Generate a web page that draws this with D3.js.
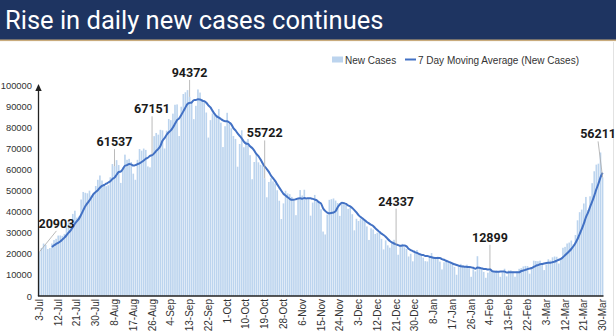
<!DOCTYPE html>
<html>
<head>
<meta charset="utf-8">
<script src="https://cdn.jsdelivr.net/npm/d3@7/dist/d3.min.js"></script>
<style>
  html, body { margin: 0; padding: 0; background: #fff; }
  svg { display: block; }
</style>
</head>
<body>
<svg id="chart" width="616" height="336"></svg>
<script>
// Daily new cases, 3 Jul 2020 – 30 Mar 2021
const startDate = "2020-07-03";
const newCases = [
  // Jul
  20903, 22771, 24850, 24248, 22252, 22752, 24879, 26506, 27114, 28637, 28701, 28498, 29429, 32695, 34956,
  34884, 38902, 40425, 37148, 37724, 45720, 49310, 48916, 48661, 49931, 47704, 48513, 52123, 55078,
  // Aug
  57118, 54735, 52972, 52050, 52509, 56282, 62538, 61537, 64399, 62064, 53601, 60963, 66999, 64553, 65002,
  63490, 57981, 55079, 64531, 69652, 68898, 69878, 69239, 61408, 60975, 67151, 75760, 77266, 76472, 78761, 78512,
  // Sep
  69921, 78357, 83883, 83341, 86432, 90632, 90802, 75809, 89706, 95735, 96551, 97570, 94372, 92071, 83809,
  90123, 97894, 96424, 93337, 92605, 86961, 75083, 83347, 86508, 86052, 85362, 88600, 82170, 70589, 80472,
  // Oct
  86821, 81484, 79476, 75829, 74442, 61267, 72049, 78524, 70496, 73272, 74383, 66732, 55342, 63509, 67708,
  63371, 62212, 61871, 55722, 46790, 54044, 55839, 54366, 53370, 50129, 45149, 36469, 43893, 49881, 48648, 48268,
  // Nov
  46963, 45231, 38310, 46253, 50209, 47638, 50357, 45674, 45903, 38073, 44281, 47905, 44878, 44684, 41100,
  30548, 29163, 38617, 45576, 45882, 46232, 45209, 44059, 37975, 44376, 44489, 43082, 41322, 41810, 38772,
  // Dec
  31118, 36604, 35551, 36595, 36652, 36011, 32981, 26567, 32080, 31521, 29398, 30006, 30254, 27071, 22065,
  26382, 24010, 22890, 25152, 26624, 24337, 19556, 23950, 24712, 23067, 22273, 18732, 20021, 16432, 20549, 21821,
  // Jan
  20035, 19079, 18177, 16504, 16375, 18088, 20346, 18139, 18222, 18645, 16311, 12584, 15968, 16946, 15590,
  15158, 15144, 13788, 10064, 13823, 15223, 14545, 14256, 14849, 13203, 9102, 12689, 11666, 18855, 13083, 13052,
  // Feb
  11427, 8635, 11039, 12899, 12408, 11713, 12059, 11831, 9110, 11067, 12923, 9309, 12143, 12194,
  11649, 9121, 11610, 12881, 13193, 13993, 14264, 14199, 10584, 13742, 16738, 16577, 16488, 16752,
  // Mar
  15510, 12286, 14989, 17407, 16838, 18327, 18711, 18599, 15388, 17921, 22854, 23285, 24882, 25320, 26291,
  24492, 28903, 35871, 39726, 40953, 43846, 46951, 40715, 47262, 53476, 59118, 62258, 62714, 68020, 56211
];

// Days that carry a value callout
const calloutDays = ["2020-07-03", "2020-08-08", "2020-08-26", "2020-09-13", "2020-10-19",
                     "2020-12-21", "2021-02-04", "2021-03-30"];

const yTicks = [0, 10000, 20000, 30000, 40000, 50000, 60000, 70000, 80000, 90000, 100000];
const tickEvery = 9; // a date label every ninth day
const maWindow = 7;

const titleText = "Rise in daily new cases continues";
const legendLabels = ["New Cases", "7 Day Moving Average (New Cases)"];

// ---------------------------------------------------------------
const parse = d3.timeParse("%Y-%m-%d");
const fmtDay = d3.timeFormat("%-d-%b");
const t0 = parse(startDate);
const days = newCases.map((v, i) => ({ i, date: d3.timeDay.offset(t0, i), value: v }));

// trailing 7 day average
const ma = days.slice(maWindow - 1).map(d => ({
  i: d.i,
  value: d3.mean(newCases.slice(d.i - maWindow + 1, d.i + 1))
}));

const svg = d3.select("#chart");
const W = 616, H = 336;

// header banner
svg.append("rect").attr("x", 0).attr("y", 0).attr("width", W).attr("height", 40).attr("fill", "#1e3461");
svg.append("rect").attr("x", 0).attr("y", 39.5).attr("width", W).attr("height", 1.6).attr("fill", "#c9ab7c");
svg.append("text")
  .attr("x", 5).attr("y", 29)
  .attr("fill", "#ffffff")
  .attr("font-family", "Roboto, 'Noto Sans', sans-serif")
  .attr("font-size", 25.5)
  .text(titleText);

// faint frame edge on the right
svg.append("line").attr("x1", 613.5).attr("x2", 613.5).attr("y1", 42).attr("y2", H)
  .attr("stroke", "#e2e2e2").attr("stroke-width", 1);

const plot = { left: 38.5, right: 603.5, top: 85, bottom: 296 };

const x = d3.scaleBand()
  .domain(days.map(d => d.i))
  .range([plot.left, plot.right])
  .paddingInner(0.22)
  .paddingOuter(0.05);

const y = d3.scaleLinear().domain([0, 100000]).range([plot.bottom, plot.top]);
const cx = i => x(i) + x.bandwidth() / 2;

// bars
svg.append("g")
  .selectAll("rect")
  .data(days)
  .join("rect")
  .attr("x", d => x(d.i))
  .attr("width", x.bandwidth())
  .attr("y", d => y(d.value))
  .attr("height", d => y(0) - y(d.value))
  .attr("fill", "#bcd4ee");

// moving average line
const line = d3.line()
  .x(d => cx(d.i))
  .y(d => y(d.value))
  .curve(d3.curveMonotoneX);
svg.append("path")
  .datum(ma)
  .attr("d", line)
  .attr("fill", "none")
  .attr("stroke", "#4271c4")
  .attr("stroke-width", 2)
  .attr("stroke-linejoin", "round");

// y axis
const yAxis = d3.axisLeft(y).tickValues(yTicks).tickSize(0).tickPadding(6.5).tickFormat(d3.format("d"));
const gy = svg.append("g").attr("transform", `translate(${plot.left},0)`).call(yAxis);
gy.select(".domain").remove();
gy.selectAll("text")
  .attr("font-family", "'Liberation Sans', Arial, sans-serif")
  .attr("font-size", 9.4)
  .attr("fill", "#333");
svg.append("line")
  .attr("x1", plot.left).attr("x2", plot.left)
  .attr("y1", plot.bottom).attr("y2", plot.top + 4)
  .attr("stroke", "#222").attr("stroke-width", 1.3);
svg.append("path")
  .attr("d", `M${plot.left - 3.2},${plot.top + 6} L${plot.left},${plot.top - 1} L${plot.left + 3.2},${plot.top + 6} Z`)
  .attr("fill", "#222");

// x axis
const xAxis = d3.axisBottom(x)
  .tickValues(days.filter(d => d.i % tickEvery === 0).map(d => d.i))
  .tickSize(0)
  .tickFormat(i => fmtDay(days[i].date));
const gx = svg.append("g").attr("transform", `translate(0,${plot.bottom})`).call(xAxis);
gx.select(".domain").remove();
gx.selectAll("text")
  .attr("font-family", "'Liberation Sans', Arial, sans-serif")
  .attr("font-size", 10)
  .attr("fill", "#333")
  .attr("text-anchor", "end")
  .attr("dy", "0.35em")
  .attr("transform", "translate(0,3) rotate(-90)")
  .attr("x", 0).attr("y", 0);
svg.append("line")
  .attr("x1", plot.left - 0.6).attr("x2", plot.right)
  .attr("y1", plot.bottom).attr("y2", plot.bottom)
  .attr("stroke", "#222").attr("stroke-width", 1.3);

// value callouts: [lift above bar top, horizontal shift of the label]
const calloutLayout = [[24, 17], [20, 0], [41, 0], [20, 0], [41, 0], [39, 0], [27, 0], [39, -4.5]];
const callouts = calloutDays.map((ds, k) => {
  const i = d3.timeDay.count(t0, parse(ds));
  return { i, value: newCases[i], lift: calloutLayout[k][0], dx: calloutLayout[k][1] };
});
const gc = svg.append("g");
callouts.forEach(c => {
  const bx = cx(c.i), by = y(c.value);
  const tx = bx + c.dx, ty = by - c.lift;
  gc.append("line")
    .attr("x1", tx).attr("y1", ty + 3)
    .attr("x2", bx).attr("y2", by)
    .attr("stroke", "#a8a8a8").attr("stroke-width", 0.8);
  gc.append("text")
    .attr("x", tx).attr("y", ty)
    .attr("text-anchor", "middle")
    .attr("font-family", "Roboto, 'Noto Sans', sans-serif")
    .attr("font-weight", "bold")
    .attr("font-size", 12.5)
    .attr("fill", "#1a1a1a")
    .text(d3.format("d")(c.value));
});

// legend
const lg = svg.append("g").attr("font-family", "'Liberation Sans', Arial, sans-serif")
  .attr("font-size", 10).attr("fill", "#333");
lg.append("rect").attr("x", 332).attr("y", 56.5).attr("width", 11).attr("height", 6).attr("fill", "#bcd4ee");
lg.append("text").attr("x", 345).attr("y", 63.5).text(legendLabels[0]);
lg.append("line").attr("x1", 405).attr("x2", 416).attr("y1", 59.5).attr("y2", 59.5)
  .attr("stroke", "#4271c4").attr("stroke-width", 2);
lg.append("text").attr("x", 418).attr("y", 63.5).text(legendLabels[1]);
</script>
</body>
</html>
